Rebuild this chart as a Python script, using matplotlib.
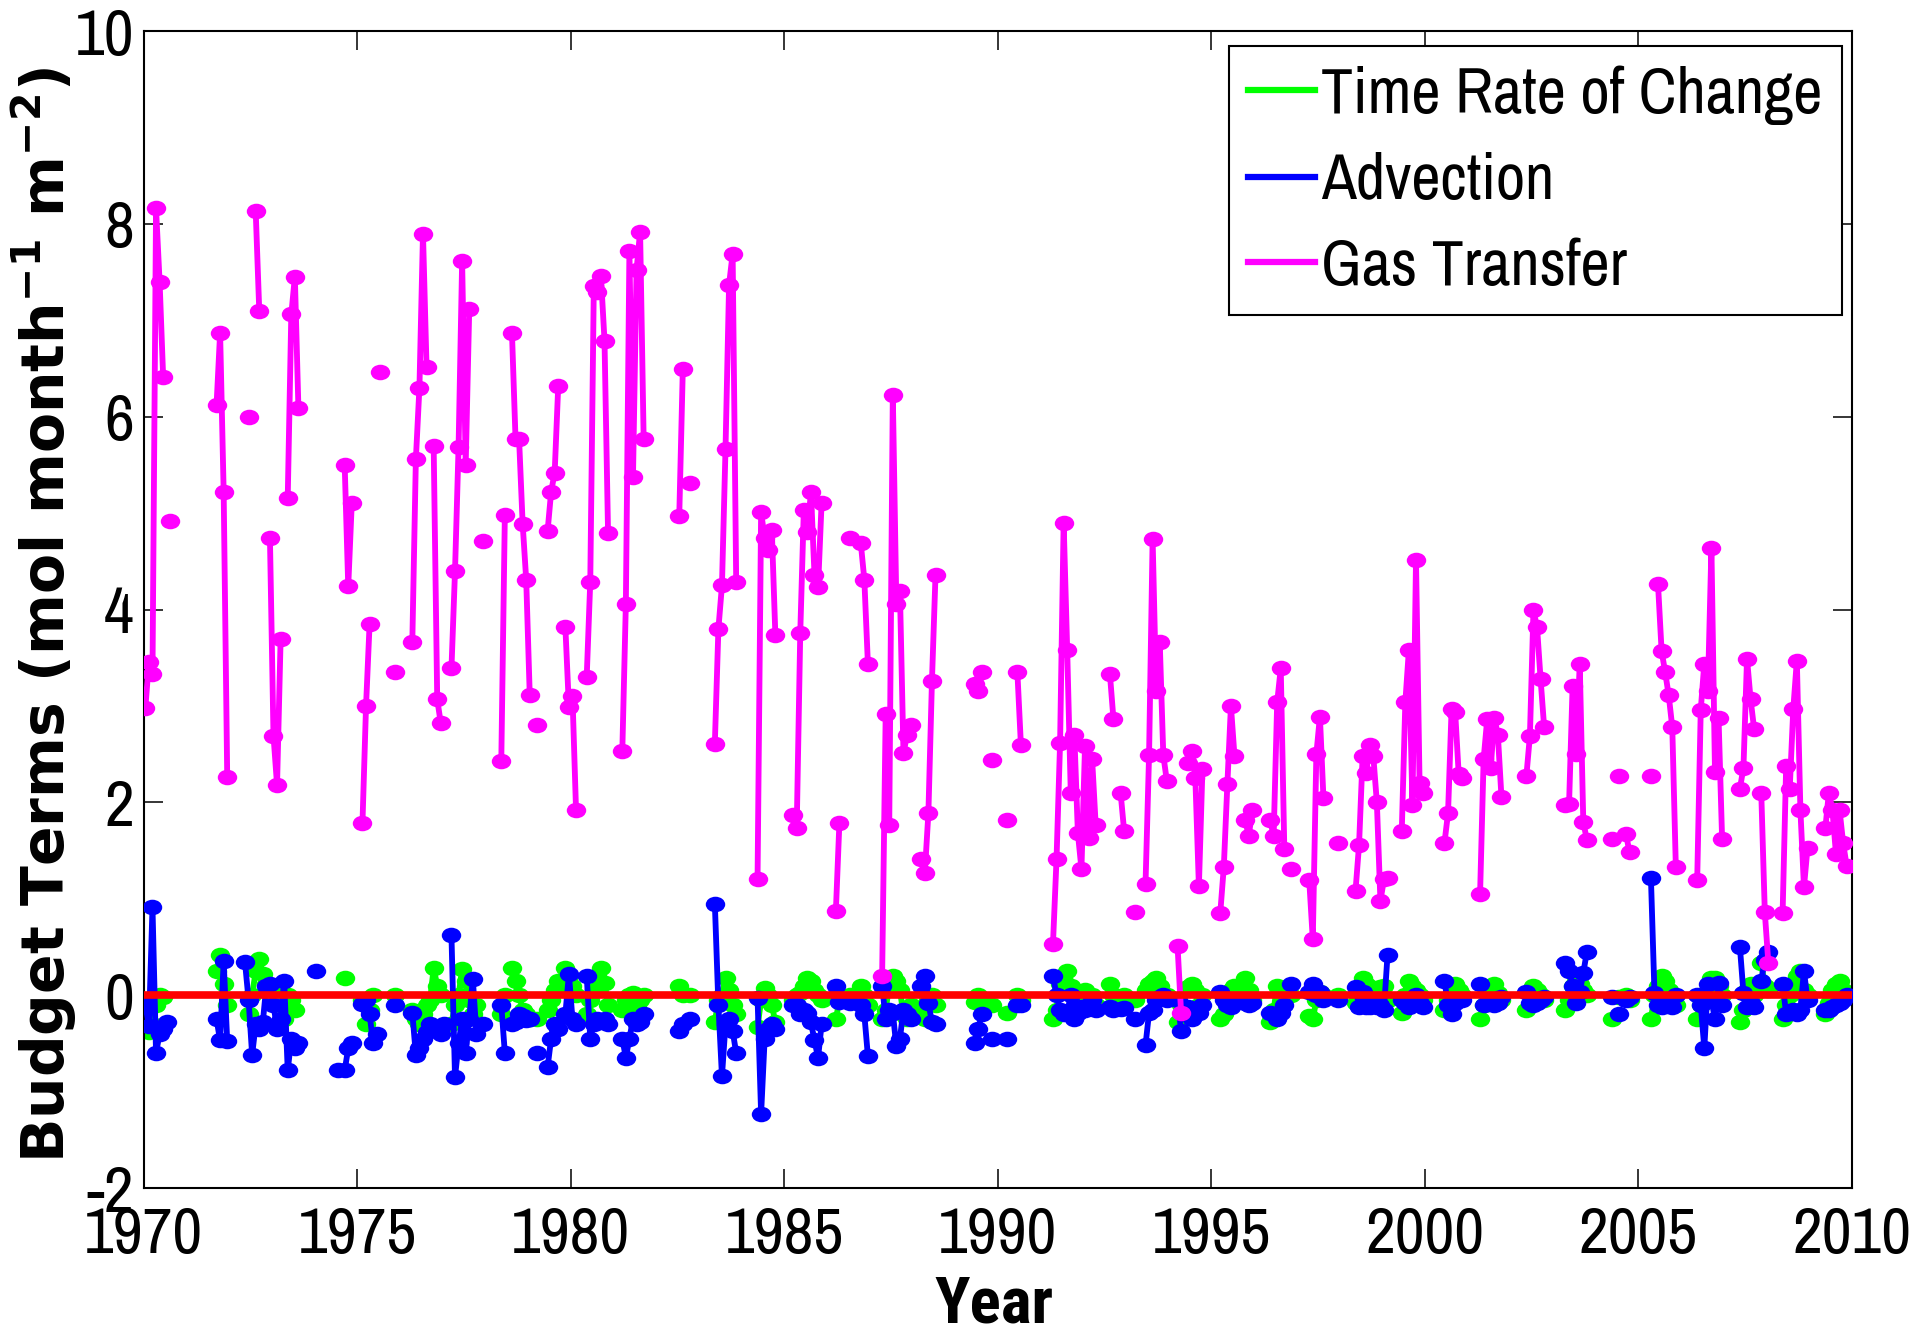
import numpy as np
import matplotlib.pyplot as plt
from matplotlib.path import Path
from matplotlib.lines import Line2D
from matplotlib import font_manager

# monthly series 1970-2009, each run = (start month index, consecutive monthly values)
gas_starts = [0, 7, 20, 29, 31, 35, 40, 56, 61, 66, 70, 75, 81, 86, 95, 100, 103, 110,
              113, 118, 124, 134, 150, 153, 160, 172, 182, 194, 198, 201, 207, 218, 233,
              238, 242, 245, 255, 271, 274, 278, 281, 290, 293, 302, 309, 316, 322, 327,
              335, 340, 353, 365, 375, 388, 399, 412, 414, 416, 423, 425, 436, 448, 454,
              460, 472]
gas_runs = [
    [2.98, 3.46, 3.33, 8.16, 7.40, 6.41], [4.92], [6.12, 6.87, 5.22, 2.26], [6.00],
    [8.13, 7.10], [4.74, 2.69, 2.18, 3.69], [5.16, 7.06, 7.45, 6.09], [5.50, 4.24, 5.11],
    [1.79, 3.00, 3.85], [6.46], [3.35], [3.66, 5.56, 6.30, 7.90, 6.52], [5.70, 3.07, 2.82],
    [3.39, 4.40, 5.69, 7.61, 5.50, 7.12], [4.71], [2.43, 4.98],
    [6.87, 5.77, 5.77, 4.89, 4.31, 3.11], [2.80], [4.81, 5.22, 5.42, 6.32],
    [3.82, 2.99, 3.10, 1.92], [3.30, 4.29, 7.36, 7.29, 7.46, 6.79, 4.79],
    [2.53, 4.06, 7.72, 5.37, 7.52, 7.92, 5.77], [4.97, 6.49], [5.31],
    [2.61, 3.80, 4.25, 5.67, 7.37, 7.69, 4.29], [1.21, 5.01, 4.74, 4.62, 4.83, 3.74],
    [1.87, 1.73, 3.76, 5.03, 4.80, 5.22, 4.36, 4.23, 5.11], [0.87, 1.79], [4.74],
    [4.69, 4.31, 3.44], [0.20, 2.92, 1.77, 6.23, 4.06, 4.19, 2.51, 2.70, 2.80],
    [1.41, 1.27, 1.89, 3.26, 4.36], [3.23, 3.15, 3.35], [2.44], [1.82], [3.35, 2.59],
    [0.53, 1.41, 2.62, 4.90, 3.58, 2.10, 2.70, 1.68, 1.31, 2.58, 1.63, 2.45, 1.77],
    [3.33, 2.86], [2.10, 1.70], [0.86], [1.15, 2.49, 4.73, 3.15, 3.66, 2.49, 2.22],
    [0.51, -0.18], [2.41, 2.53, 2.25, 1.13, 2.35], [0.85, 1.33, 2.19, 3.00, 2.48],
    [1.82, 1.65, 1.92], [1.82, 1.65, 3.04, 3.39, 1.52], [1.31], [1.19, 0.58, 2.50, 2.89, 2.04],
    [1.58], [1.08, 1.56, 2.48, 2.30, 2.60, 2.48, 2.00, 0.98, 1.20, 1.22],
    [1.70, 3.04, 3.58, 1.97, 4.51, 2.20, 2.10], [1.58, 1.89, 2.97, 2.94, 2.29, 2.25],
    [1.05, 2.45, 2.86, 2.36, 2.88, 2.70, 2.06], [2.27, 2.69, 3.99, 3.82, 3.28, 2.78],
    [1.97, 1.98, 3.21, 2.50, 3.44, 1.80, 1.61], [1.62], [2.27], [1.67, 1.48], [2.27],
    [4.26, 3.57, 3.35, 3.11, 2.78, 1.33], [1.19, 2.96, 3.44, 3.16, 4.64, 2.31, 2.88, 1.62],
    [2.14, 2.36, 3.49, 3.07, 2.76], [2.10, 0.86, 0.33],
    [0.85, 2.38, 2.14, 2.97, 3.47, 1.92, 1.12, 1.53], [1.73, 2.10, 1.92, 1.46, 1.92, 1.58, 1.34],
]

adv_starts = [0, 20, 28, 48, 54, 56, 61, 70, 75, 86, 95, 100, 103, 110, 113, 118, 124, 134,
              150, 153, 160, 172, 182, 194, 198, 201, 207, 218, 233, 238, 242, 245, 255, 271,
              274, 278, 281, 290, 293, 302, 309, 316, 322, 327, 335, 340, 353, 365, 375, 388,
              399, 412, 414, 416, 423, 436, 448, 454, 460, 472]
adv_runs = [
    [-0.10, -0.32, 0.91, -0.60, -0.40, -0.35, -0.28], [-0.25, -0.47, 0.35, -0.48],
    [0.34, -0.05, -0.62, -0.30, -0.35, -0.28, 0.10, 0.12, -0.10, -0.35, -0.25, 0.15, -0.78,
     -0.45, -0.55, -0.50],
    [0.25], [-0.78], [-0.78, -0.55, -0.50], [-0.09, -0.05, -0.20, -0.50, -0.40], [-0.10],
    [-0.18, -0.62, -0.55, -0.45, -0.38, -0.30, -0.35, -0.34, -0.40, -0.30],
    [0.62, -0.85, -0.50, -0.25, -0.60, -0.25, 0.17, -0.40], [-0.30], [-0.10, -0.60],
    [-0.30, -0.28, -0.20, -0.22, -0.26, -0.25], [-0.60], [-0.75, -0.45, -0.30, -0.35],
    [-0.20, 0.22, -0.25, -0.30], [0.20, -0.45, -0.30, -0.25, -0.28, -0.25, -0.30],
    [-0.45, -0.65, -0.45, -0.25, -0.30, -0.28, -0.20], [-0.37, -0.30], [-0.25],
    [0.95, -0.10, -0.84, -0.30, -0.25, -0.37, -0.60], [-0.03, -1.23, -0.45, -0.35, -0.30, -0.35],
    [-0.10, -0.10, -0.20, -0.15, -0.18, -0.28, -0.47, -0.65, -0.30], [0.10, -0.07], [-0.08],
    [-0.10, -0.20, -0.63], [0.10, -0.25, -0.15, -0.18, -0.53, -0.45, -0.15, -0.20, -0.25],
    [0.10, 0.20, -0.08, -0.28, -0.30], [-0.50, -0.35, -0.20], [-0.45], [-0.45], [-0.10, -0.10],
    [0.20, 0.00, -0.15, -0.20, -0.18, 0.00, -0.25, -0.18, -0.12, -0.15, -0.10, -0.05, -0.15],
    [-0.12, -0.15], [-0.14, -0.13], [-0.25], [-0.52, -0.18, -0.15, -0.05, -0.02, 0.00, -0.05],
    [-0.05, -0.37], [-0.12, -0.25, -0.18, -0.18, -0.10], [0.03, -0.05, -0.10, -0.12, -0.05],
    [-0.08, -0.10, -0.08], [-0.18, -0.20, -0.25, -0.18, -0.10], [0.12],
    [0.03, 0.12, 0.00, 0.03, -0.05], [-0.05],
    [0.08, -0.12, 0.03, -0.12, -0.12, -0.08, -0.12, -0.10, -0.15, 0.42],
    [-0.05, -0.08, -0.12, -0.05, 0.00, -0.08, -0.12], [0.15, -0.10, -0.20, -0.08, -0.05, -0.05],
    [0.12, -0.10, -0.08, -0.05, -0.10, -0.08, -0.02], [0.03, -0.08, -0.10, -0.08, -0.05, -0.02],
    [0.33, 0.25, 0.10, -0.08, 0.03, 0.23, 0.45], [-0.02], [-0.20], [-0.05, -0.02],
    [1.22, 0.02, -0.10, -0.12, -0.10, -0.08, -0.12, 0.00],
    [0.00, -0.10, -0.55, 0.12, -0.05, -0.25, 0.13, -0.10], [0.50, 0.02, -0.12, -0.08, -0.12],
    [0.15, 0.37, 0.45], [0.12, -0.20, -0.18, -0.15, -0.20, -0.15, 0.25, -0.05],
    [-0.15, -0.15, -0.12, -0.10, -0.08, -0.05, 0.00],
]

rate_starts = [0, 20, 29, 56, 61, 70, 75, 86, 100, 103, 110, 113, 118, 124, 134, 150, 153,
               160, 172, 182, 194, 198, 201, 207, 218, 233, 238, 242, 245, 255, 271, 274, 278,
               281, 290, 293, 302, 309, 316, 322, 327, 335, 340, 353, 365, 375, 388, 399, 412,
               414, 416, 423, 436, 448, 454, 460, 472]
rate_runs = [
    [-0.15, -0.38, -0.30, -0.10, 0.00, -0.02], [0.25, 0.42, 0.12, -0.10],
    [-0.20, 0.00, 0.25, 0.38, 0.22, 0.12, 0.05, -0.05, 0.00, -0.10, -0.25, 0.00, -0.05, -0.15],
    [0.18], [-0.05, -0.30, -0.15, 0.00], [0.00],
    [-0.15, -0.25, -0.30, -0.20, -0.10, -0.05, 0.28, 0.10, 0.00],
    [-0.30, -0.10, 0.00, 0.27, 0.15, -0.05, -0.20, -0.10], [-0.20, 0.00],
    [0.28, 0.15, 0.00, -0.15, -0.20, -0.25], [-0.25], [-0.15, -0.05, 0.05, 0.15],
    [0.28, 0.20, 0.10, 0.00], [-0.20, -0.05, 0.05, 0.20, 0.28, 0.13, -0.10],
    [-0.15, -0.05, 0.00, 0.02, -0.10, -0.05, 0.00], [0.10, 0.00], [0.00],
    [-0.28, -0.05, 0.00, 0.18, 0.05, -0.10, -0.20], [-0.33, -0.05, 0.07, 0.00, -0.10, -0.28],
    [-0.05, 0.00, 0.02, 0.10, 0.18, 0.15, 0.05, 0.00, -0.05], [-0.25, -0.05], [0.00],
    [0.10, 0.00, -0.10], [-0.25, -0.15, 0.10, 0.20, 0.15, 0.05, -0.20, -0.25, -0.10],
    [-0.20, -0.25, -0.05, 0.00, -0.10], [-0.07, 0.00, -0.05], [-0.10], [-0.18], [0.00, -0.05],
    [-0.25, -0.15, 0.12, 0.15, 0.25, 0.10, 0.00, -0.05, -0.10, 0.05, -0.05, 0.00, -0.10],
    [0.12, 0.00], [-0.05, 0.00], [-0.05], [0.05, 0.12, 0.15, 0.18, 0.10, -0.02, 0.00],
    [-0.28, -0.10], [0.08, 0.12, 0.05, -0.10, 0.00], [-0.25, -0.20, 0.00, 0.05, 0.10],
    [0.18, 0.05, -0.05], [-0.28, -0.15, 0.10, 0.00, -0.05], [0.00],
    [-0.22, -0.25, -0.05, 0.03, 0.00], [0.00],
    [-0.08, 0.00, 0.18, 0.12, 0.08, 0.05, -0.05, 0.08, 0.10, -0.05],
    [-0.18, 0.00, 0.15, 0.10, 0.05, 0.00, -0.05], [-0.15, -0.05, 0.10, 0.12, 0.05, 0.00],
    [-0.25, -0.10, 0.05, 0.10, 0.12, 0.02, -0.05], [-0.15, -0.10, 0.10, 0.05, 0.00, -0.05],
    [-0.15, -0.05, 0.10, 0.15, 0.12, 0.05, 0.00], [-0.25], [-0.02], [0.00, -0.05],
    [-0.25, 0.00, 0.10, 0.20, 0.15, 0.05, -0.05, -0.10],
    [-0.25, -0.10, 0.00, 0.05, 0.18, 0.18, 0.10, 0.00], [-0.28, -0.15, 0.05, 0.12, 0.00],
    [0.33, 0.10, 0.05], [-0.25, -0.10, 0.00, 0.10, 0.20, 0.25, 0.05, 0.00],
    [-0.20, -0.08, 0.05, 0.12, 0.15, 0.05, 0.00],
]

labels = ["Time Rate of Change", "Advection", "Gas Transfer"]
year_ticks = [1970, 1975, 1980, 1985, 1990, 1995, 2000, 2005, 2010]
value_ticks = [-2, 0, 2, 4, 6, 8, 10]

n_months = 480
t = 1970 + (np.arange(n_months) + 0.5) / 12


def monthly(starts, runs):
    y = np.full(n_months, np.nan)
    for s, r in zip(starts, runs):
        y[s:s + len(r)] = r
    return y


# pick narrow sans fonts (the original uses a tall, narrow Helvetica)
fonts = font_manager.fontManager.ttflist
names = {f.name for f in fonts}
bold_names = {f.name for f in fonts if f.weight in (700, 'bold')}
cands = ["Liberation Sans Narrow", "Arial Narrow", "Archivo Narrow",
         "Roboto Condensed", "Asap Condensed", "Barlow Semi Condensed"]
narrow = next((c for c in cands if c in names), "Liberation Sans")
narrow_bold = next((c for c in cands if c in bold_names), "Liberation Sans")

plt.rcParams['axes.unicode_minus'] = False

# slightly flattened dot like the original markers
circ = Path.unit_circle()
dot = Path(circ.vertices * np.array([1.0, 0.8]), circ.codes)

fig = plt.figure(figsize=(19.17, 13.38), dpi=100)
ax = fig.add_axes([0.0749, 0.1121, 0.8912, 0.8647])

series = [(rate_starts, rate_runs, (0, 1, 0)),
          (adv_starts, adv_runs, (0, 0, 1)),
          (gas_starts, gas_runs, (1, 0, 1))]
for k, (s, r, c) in enumerate(series):
    ax.plot(t, monthly(s, r), '-', color=c, lw=4.2, marker=dot, ms=14,
            mec=c, mfc=c, mew=0, zorder=2 + k)

ax.axhline(0, color=(1, 0, 0), lw=5.5, zorder=6)

ax.set_xlim(1970, 2010)
ax.set_ylim(-2, 10)
ax.set_xticks(year_ticks)
ax.set_yticks(value_ticks)
ax.tick_params(direction='in', length=13.5, width=1.1, top=True, right=True,
               labelsize=47, pad=7)
ax.tick_params(axis='x', pad=13)
for lab in ax.get_xticklabels() + ax.get_yticklabels():
    lab.set_family(narrow)
for sp in ax.spines.values():
    sp.set_linewidth(1.5)

ax.set_xlabel("Year", fontsize=47, fontweight='bold', family=narrow_bold, va='center')
ax.xaxis.set_label_coords(0.498, -0.101)
ax.set_ylabel(r'Budget Terms (mol month$^{\mathbf{-1}}$ m$^{\mathbf{-2}}$)',
              fontsize=42, fontweight='bold', family='DejaVu Sans', va='center')
ax.yaxis.set_label_coords(-0.058, 0.495)

handles = [Line2D([], [], color=c, lw=4.5) for _, _, c in series]
leg = ax.legend(handles, labels, loc='upper right', bbox_to_anchor=(0.994, 0.987),
                borderaxespad=0, fancybox=False, framealpha=1, edgecolor='black',
                prop={'family': narrow, 'size': 46}, handlelength=1.05,
                handletextpad=0.1, borderpad=0.3, labelspacing=0.43)
leg.get_frame().set_linewidth(1.5)

fig.savefig("out.png", dpi=100)
